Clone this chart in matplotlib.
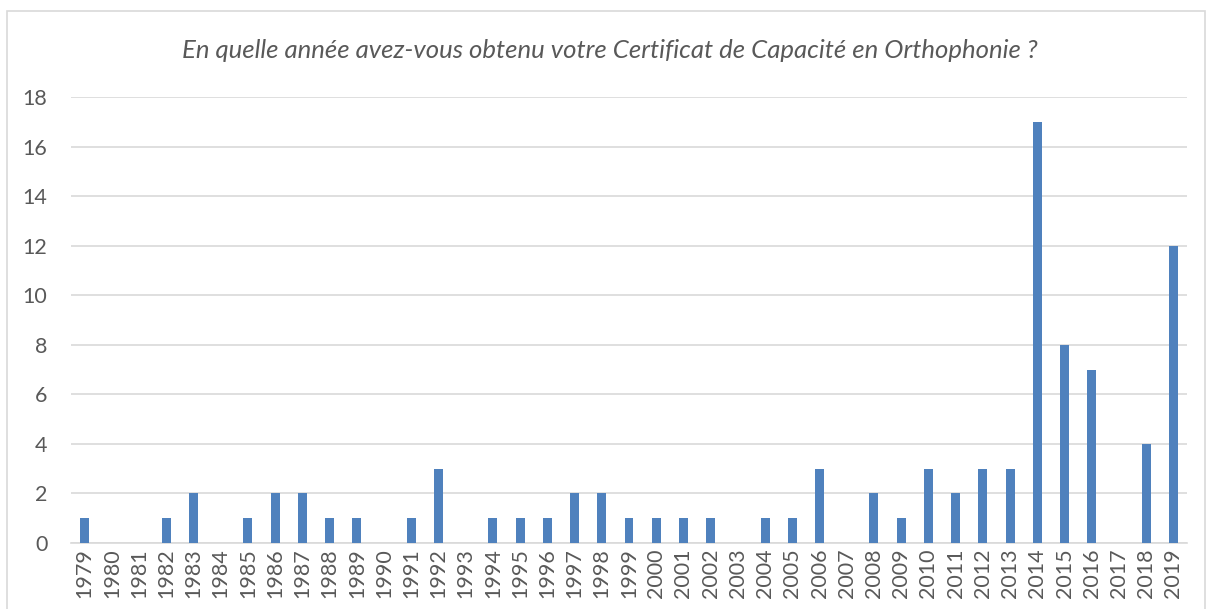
import matplotlib
matplotlib.use("Agg")
import matplotlib.pyplot as plt
from matplotlib.patches import Rectangle

years = [str(y) for y in range(1979, 2020)]
counts = [1, 0, 0, 1, 2, 0, 1, 2, 2, 1, 1, 0, 1, 3, 0, 1, 1, 1, 2, 2,
          1, 1, 1, 1, 0, 1, 1, 3, 0, 2, 1, 3, 2, 3, 3, 17, 8, 7, 0, 4, 12]
title = "En quelle année avez-vous obtenu votre Certificat de Capacité en Orthophonie ?"

plt.rcParams['font.family'] = ['Lato', 'DejaVu Sans']
text_color = '#595959'
bar_color = '#4f81bd'

fig = plt.figure(figsize=(12.13, 6.09), dpi=100)
fig.patches.append(Rectangle((7 / 1213, -0.1), 1198 / 1213, 1.1 - 11 / 609,
                             transform=fig.transFigure, fill=False,
                             edgecolor='#d9d9d9', linewidth=1.2))
ax = fig.add_axes([71 / 1213, 1 - 543 / 609, (1187 - 71) / 1213, (543 - 97) / 609])

x = range(len(years))
ax.bar(x, counts, width=0.33, color=bar_color, zorder=3)
ax.set_xlim(-0.5, len(years) - 0.5)
ax.set_ylim(0, 18)
ax.set_yticks(range(0, 19, 2))
ax.set_xticks(list(x))
ax.set_xticklabels(years, rotation=90)
ax.tick_params(axis='both', length=0, labelsize=15.5, colors=text_color)
ax.tick_params(axis='y', pad=17)
ax.tick_params(axis='x', pad=4)
ax.grid(axis='y', color='#d9d9d9', linewidth=1.2, zorder=0)
for s in ['top', 'right', 'left']:
    ax.spines[s].set_visible(False)
ax.spines['bottom'].set_color('#d9d9d9')
ax.spines['bottom'].set_linewidth(1.2)

fig.text(0.503, 1 - 51 / 609, title, ha='center', va='center', fontsize=18.5,
         style='italic', color=text_color)

fig.savefig("out.png", dpi=100)
